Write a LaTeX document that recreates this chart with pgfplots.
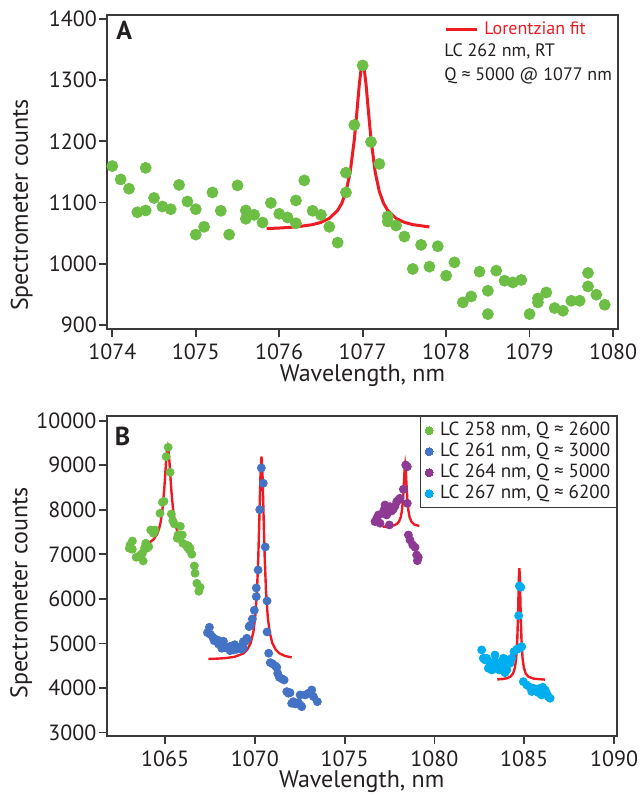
\documentclass[border=0pt]{standalone}
\usepackage{fontspec}
\setmainfont{PT Sans}
\usepackage{pgfplots}
\pgfplotsset{compat=1.18}

\definecolor{axisgray}{HTML}{3A3A3A}
\definecolor{textgray}{HTML}{231F20}
\definecolor{fitred}{HTML}{ED1C24}
\definecolor{ptgreen}{HTML}{6CBE45}
\definecolor{ptblue}{HTML}{4472C4}
\definecolor{ptpurple}{HTML}{8E3A95}
\definecolor{ptcyan}{HTML}{00AEEF}

% shared look of both panels; #1 = vertical place of the y label
\pgfplotsset{
  panel/.style={
    scale only axis, anchor=north west,
    axis line style={draw=axisgray, line width=1pt},
    tick align=outside, tick pos=left, major tick length=4pt,
    tick style={draw=axisgray, line width=0.9pt},
    /pgf/number format/assume math mode=true,
    /pgf/number format/1000 sep={},
    scaled ticks=false,
    tick label style={font=\fontsize{11}{13}\selectfont, text=textgray},
    label style={font=\fontsize{12}{14}\selectfont, text=textgray},
    yticklabel style={inner xsep=1pt},
    ylabel style={at={(axis description cs:-0.1554,#1)}, anchor=base},
  },
}

\begin{document}
\begin{tikzpicture}
\path[use as bounding box] (0pt,0pt) rectangle (319.5pt,-397.5pt);

% ---------- panel A ----------
\begin{axis}[panel=0.3945,
  at={(53.65pt,-7.35pt)}, width=255.2pt, height=157.2pt,
  xmin=1073.94, xmax=1080.056, ymin=893, ymax=1407,
  xtick={1074,1075,...,1080}, ytick={900,1000,...,1400},
  xlabel={Wavelength, nm}, ylabel={Spectrometer counts},
  xlabel style={at={(axis description cs:0.5,-0.1654)}, anchor=base},
  legend style={draw=none, fill=none, at={(axis description cs:0.6597,0.9536)},
    anchor=west, inner sep=0pt, nodes={inner sep=0pt},
    font=\fontsize{9}{11}\selectfont},
  legend image code/.code={\draw[#1] (0pt,0pt) -- (15.5pt,0pt);},
]
\addplot[fitred, line width=1.5pt] coordinates {
 (1075.85,1057.4) (1076.0,1058.2) (1076.2,1060.0) (1076.4,1063.8) (1076.5,1067.5)
 (1076.6,1074.0) (1076.7,1087.0) (1076.75,1098.8) (1076.8,1117.7) (1076.85,1149.4)
 (1076.9,1202.9) (1076.93,1247.2) (1076.96,1293.5) (1076.98,1316.4) (1077.0,1325)
 (1077.02,1316.4) (1077.04,1293.5) (1077.07,1247.2) (1077.1,1202.9) (1077.15,1149.4)
 (1077.2,1117.7) (1077.25,1098.8) (1077.3,1087.0) (1077.4,1074.0) (1077.5,1067.5)
 (1077.6,1063.8) (1077.8,1060.0)};
\addlegendentry{\hspace{3pt}\textcolor{fitred}{Lorentzian fit}}
\addplot[only marks, mark=*, mark size=2.75pt, color=ptgreen, forget plot] table {
x y
1074.0 1159.5
1074.1 1137.7
1074.2 1122.5
1074.3 1084
1074.4 1156.6
1074.4 1086.9
1074.5 1107.4
1074.6 1093.4
1074.7 1089
1074.8 1128.7
1074.9 1101.6
1075.0 1089
1075.0 1047.5
1075.1 1060.2
1075.2 1116.4
1075.3 1086.4
1075.4 1047.5
1075.5 1127.9
1075.6 1086.9
1075.6 1073.3
1075.7 1079.8
1075.8 1067.2
1075.9 1099.2
1076.0 1081.5
1076.1 1075.4
1076.2 1103.3
1076.2 1066
1076.3 1136.1
1076.4 1086.4
1076.5 1079.8
1076.6 1060.2
1076.7 1034.4
1076.8 1148.7
1076.8 1116.4
1076.9 1226.7
1077.0 1324.1
1077.1 1198.9
1077.2 1163.1
1077.3 1077
1077.3 1068.9
1077.4 1062.3
1077.5 1044.3
1077.6 991.3
1077.7 1030.7
1077.8 995.1
1077.9 1028.4
1078.0 980.3
1078.1 1002.1
1078.2 936.6
1078.3 946.4
1078.4 986.9
1078.5 955.7
1078.5 917.5
1078.6 988.5
1078.7 972.1
1078.8 969.3
1078.9 973.3
1079.0 917.5
1079.1 943.1
1079.1 936.6
1079.2 952.9
1079.3 927.4
1079.4 923
1079.5 939.3
1079.6 939.3
1079.7 984.8
1079.7 962.8
1079.8 949.2
1079.9 932.8
};
\end{axis}
\node[anchor=base west, inner sep=0pt, font=\fontsize{13}{15}\selectfont\bfseries, text=textgray] at (58pt,-20pt) {A};
\node[anchor=base west, inner sep=0pt, font=\fontsize{9}{11}\selectfont, text=textgray] at (222pt,-28.5pt) {LC 262 nm, RT};
\node[anchor=base west, inner sep=0pt, font=\fontsize{9}{11}\selectfont, text=textgray] at (222pt,-40.5pt) {Q ≈ 5000 @ 1077 nm};

% ---------- panel B ----------
\begin{axis}[panel=0.4463,
  at={(53.35pt,-208pt)}, width=255pt, height=159.85pt,
  xmin=1061.75, xmax=1090.15, ymin=2930, ymax=10105,
  xtick={1065,1070,...,1090}, ytick={3000,4000,...,10000},
  xlabel={Wavelength, nm}, ylabel={Spectrometer counts},
  xlabel style={at={(axis description cs:0.5,-0.1605)}, anchor=base},
  legend cell align=left,
  legend style={at={(1,1)}, anchor=north east, draw=axisgray, line width=0.6pt,
    fill=white, inner xsep=2.5pt, inner ysep=2pt, row sep=0.5pt,
    nodes={inner sep=0.5pt, text height=7pt, text depth=2pt},
    /tikz/every odd column/.append style={column sep=3pt},
    font=\fontsize{9.5}{11}\selectfont, text=textgray},
  legend image code/.code={\draw[#1, line width=0pt] plot coordinates {(0pt,0pt)};},
]
\addplot[fitred, line width=1.2pt, forget plot] coordinates {
 (1063.70,7215) (1063.95,7239) (1064.15,7273) (1064.35,7331) (1064.55,7447)
 (1064.65,7551) (1064.75,7716) (1064.85,7989) (1064.95,8436) (1065.00,8732)
 (1065.05,9044) (1065.10,9299) (1065.15,9400) (1065.20,9299) (1065.25,9044)
 (1065.30,8732) (1065.35,8436) (1065.45,7989) (1065.55,7716) (1065.70,7493)};
\addplot[fitred, line width=1.2pt, forget plot] coordinates {
 (1067.41,4652) (1067.87,4659) (1068.37,4672) (1068.87,4700) (1069.37,4778)
 (1069.57,4855) (1069.77,5012) (1069.92,5264) (1070.02,5589) (1070.12,6192)
 (1070.19,6915) (1070.25,7792) (1070.31,8739) (1070.37,9195) (1070.43,8739)
 (1070.49,7792) (1070.55,6915) (1070.62,6192) (1070.72,5589) (1070.82,5264)
 (1070.97,5012) (1071.17,4855) (1071.37,4778) (1071.67,4721) (1072.05,4687)};
\addplot[fitred, line width=1.2pt, forget plot] coordinates {
 (1077.12,7620) (1077.37,7626) (1077.57,7635) (1077.77,7654) (1077.92,7686)
 (1078.02,7732) (1078.12,7830) (1078.19,7981) (1078.25,8236) (1078.30,8596)
 (1078.34,8910) (1078.37,9010) (1078.40,8910) (1078.44,8596) (1078.49,8236)
 (1078.55,7981) (1078.62,7830) (1078.72,7732) (1078.87,7672) (1079.16,7636)};
\addplot[fitred, line width=1.2pt, forget plot] coordinates {
 (1083.50,4193) (1083.73,4199) (1084.03,4219) (1084.23,4255) (1084.38,4328)
 (1084.48,4454) (1084.55,4660) (1084.61,5051) (1084.65,5547) (1084.68,6072)
 (1084.705,6501) (1084.73,6690) (1084.755,6501) (1084.78,6072) (1084.81,5547)
 (1084.85,5051) (1084.91,4660) (1084.98,4454) (1085.08,4328) (1085.23,4255)
 (1085.53,4210) (1086.16,4189)};

\addplot[only marks, mark=*, mark size=2pt, color=ptgreen] table {
x y
1065.17 9403
1065.06 9192
1065.28 8842
1064.94 8191
1064.85 8169
1064.72 7922
1065.35 7906
1065.43 7756
1065.52 7682
1065.85 7630
1064.44 7547
1064.20 7547
1064.35 7473
1065.72 7435
1065.96 7435
1065.68 7361
1063.93 7249
1064.09 7172
1063.98 7137
1063.85 7137
1063.18 7300
1063.05 7211
1063.01 7137
1063.18 7114
1063.74 7024
1063.61 6984
1063.39 6935
1063.51 6948
1063.78 6852
1065.99 7249
1066.17 7211
1066.24 7159
1066.30 7188
1066.39 7137
1066.35 7099
1066.49 7002
1066.63 6739
1066.67 6576
1066.77 6351
1066.95 6262
1066.88 6172
};
\addlegendentry{LC 258 nm, Q ≈ 2600}
\addplot[only marks, mark=*, mark size=2pt, color=ptblue] table {
x y
1070.36 8939
1070.47 8596
1070.27 8003
1070.58 7166
1070.18 6650
1070.08 6246
1070.08 6051
1070.68 5954
1069.97 5746
1069.86 5550
1069.75 5409
1069.68 5378
1070.68 5258
1069.57 5095
1069.45 5041
1069.55 5117
1069.36 5041
1070.77 4781
1070.86 4570
1071.00 4540
1071.14 4495
1071.22 4466
1071.27 4332
1071.36 4242
1071.50 4210
1071.63 4181
1071.78 3919
1071.87 3883
1071.96 3896
1072.05 3658
1072.14 3694
1072.24 3643
1072.42 3672
1072.52 3620
1072.61 3582
1072.52 3845
1072.80 3845
1072.98 3883
1073.17 3957
1073.26 3807
1073.48 3694
1067.47 5364
1067.36 5243
1067.54 5198
1067.66 5140
1067.78 5095
1067.73 5063
1067.91 5079
1068.06 5050
1068.25 5050
1067.97 4989
1068.16 4892
1068.29 4915
1068.44 4899
1068.58 4929
1068.73 4944
1068.88 4973
1068.62 4839
1068.80 4854
1068.99 4870
1069.13 4915
1069.27 4870
1069.36 4899
};
\addlegendentry{LC 261 nm, Q ≈ 3000}
\addplot[only marks, mark=*, mark size=2pt, color=ptpurple] table {
x y
1078.40 9006
1078.49 8968
1078.27 8461
1078.08 8259
1077.99 8221
1077.90 8182
1078.49 8146
1077.81 8086
1077.71 8012
1077.62 7974
1077.53 8070
1077.25 8108
1077.19 7996
1077.12 7922
1077.34 7884
1077.43 7958
1076.88 7884
1076.79 7810
1076.69 7734
1076.97 7698
1077.49 7660
1078.55 7435
1078.64 7323
1078.79 7211
1078.92 7159
1079.01 6986
1079.10 6934
1079.05 6858
};
\addlegendentry{LC 264 nm, Q ≈ 5000}
\addplot[only marks, mark=*, mark size=2pt, color=ptcyan] table {
x y
1084.73 6291
1084.81 6261
1084.69 5624
1084.86 4929
1084.58 4870
1084.73 4893
1084.43 4816
1084.30 4668
1084.21 4556
1084.03 4630
1083.84 4668
1083.75 4556
1083.88 4466
1084.03 4406
1083.93 4345
1083.56 4556
1083.37 4742
1083.37 4614
1083.19 4480
1083.25 4421
1083.10 4556
1082.91 4668
1082.72 4668
1082.63 4855
1082.82 4630
1083.00 4444
1083.19 4406
1083.61 4406
1084.95 4143
1085.14 4069
1085.32 4017
1085.51 3995
1085.70 3973
1085.88 3995
1086.03 4017
1086.16 3957
1086.25 3883
1086.34 3807
1086.44 3771
1085.42 3922
1085.79 3897
1085.97 3845
};
\addlegendentry{LC 267 nm, Q ≈ 6200}
\end{axis}
\node[anchor=base west, inner sep=0pt, font=\fontsize{13}{15}\selectfont\bfseries, text=textgray] at (57.2pt,-222.5pt) {B};
\end{tikzpicture}
\end{document}
